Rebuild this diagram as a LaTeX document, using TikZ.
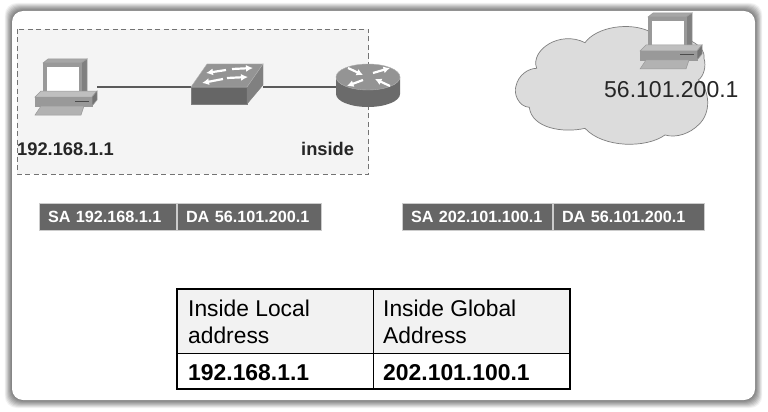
\documentclass[tikz,border=0pt]{standalone}
\usepackage{fontspec}
\usetikzlibrary{arrows.meta}
\setmainfont{Liberation Sans}
\definecolor{pktgray}{HTML}{666666}
\definecolor{linegray}{HTML}{5A5A5A}
\definecolor{zonefill}{HTML}{F4F4F4}
\definecolor{cloudfill}{HTML}{DCDCDC}
\definecolor{cloudline}{HTML}{7F7F7F}
\tikzset{
  x=1pt,y=-1pt,
  slot/.style={draw=none,fill=none,inner sep=0pt,outer sep=0pt},
  pkt/.style={fill=pktgray,draw=white!80!black,line width=.5pt,text=white,inner ysep=0pt,inner xsep=9pt,outer sep=0pt,
     minimum height=27pt,align=left,font=\bfseries\fontsize{16.2}{18}\selectfont},
  link/.style={draw=linegray,line width=1.8pt},
  celltxt/.style={anchor=base west,inner sep=0pt,font=\fontsize{22.8}{26}\selectfont},
  cellbold/.style={anchor=base west,inner sep=0pt,font=\bfseries\fontsize{22.9}{26}\selectfont},
  lbl/.style={anchor=base west,inner sep=0pt,font=\bfseries\fontsize{18.3}{22}\selectfont,text=black!85},
  pcpart/.style={draw=black!40,line width=.5pt},
  pics/computer/.style={code={
    % monitor side/top
    \path[pcpart,fill=black!50] (87,59) -- (87,91) -- (81,95) -- (81,63) -- cycle;
    \path[pcpart,fill=black!35] (43,63) -- (48,59) -- (87,59) -- (81,63) -- cycle;
    \path[pcpart,fill=black!40] (43,63) rectangle (81,95);
    \path[draw=none,fill=white] (47,67) rectangle (79,91);
    % base
    \path[pcpart,fill=black!25] (35,97) -- (41,91) -- (97,91) -- (92,97) -- cycle;
    \path[pcpart,fill=black!40] (35,97) rectangle (92,106);
    \path[pcpart,fill=black!55] (92,97) -- (97,91) -- (97,100) -- (92,106) -- cycle;
    \path[draw=black!70,line width=1pt] (75,101) -- (89,101);
    % keyboard
    \path[pcpart,fill=black!30] (41,106) -- (84,106) -- (81,115) -- (35,115) -- cycle;
  }},
}
\begin{document}
\begin{tikzpicture}
\useasboundingbox (0,0) rectangle (768,412);
\fill[white] (0,0) rectangle (768,412);
% frame with soft edge
\foreach \d/\s in {8/5,7/12,6/19,5/26,4/32,3/38,2/43,1/48,0/52}{
  \fill[black!\s,rounded corners=12pt] (12-\d*.9,11-\d) rectangle (755+\d*.9,400+\d);
}
\fill[white,rounded corners=11pt] (12,11) rectangle (755,400);
% inside zone
\draw[fill=zonefill,draw=black!55,line width=.8pt,dash pattern=on 5pt off 3.5pt] (17,29) rectangle (368.5,174);
% nodes for devices
\node[slot,minimum width=62pt,minimum height=57pt] (pc) at (66,87) {};
\node[slot,minimum width=72pt,minimum height=40pt] (sw) at (227,87) {};
\node[slot,minimum width=64pt,minimum height=46pt] (rt) at (368,87) {};
\draw[link] (pc.east) -- (sw.west);
\draw[link] (sw.east) -- (rt.west);
\pic {computer};
% switch
\path[fill=black!60,draw=black!50,line width=.4pt] (191,87) -- (247,87) -- (247,104) -- (191,104) -- cycle;
\path[fill=black!50,draw=black!50,line width=.4pt] (247,87) -- (263,64) -- (263,85) -- (247,104) -- cycle;
\path[fill=black!42,draw=black!30,line width=.4pt] (191,87) -- (207,64) -- (263,64) -- (247,87) -- cycle;
\begin{scope}[white,line width=2.2pt,-{Latex[length=7pt,width=7pt]}]
\draw (226,70) -- (206,73);
\draw (232,69) -- (253,68);
\draw (223,79) -- (202,83);
\draw (227,78) -- (248,77);
\end{scope}
% router
\path[fill=black!58] (336,77) -- (336,94) arc[start angle=180,end angle=0,x radius=32,y radius=13] -- (400,77) -- cycle;
\path[fill=black!42,draw=black!30,line width=.4pt] (368,77) ellipse[x radius=32,y radius=13];
\begin{scope}[white,line width=2.2pt,-{Latex[length=6.5pt,width=7pt]}]
\draw (348,68) -- (363,75);
\draw (373,73) -- (390,68);
\draw (363,80) -- (347,86);
\draw (390,86) -- (375,79);
\end{scope}
\node[lbl] (ipa) at (17,155) {192.168.1.1};
\node[lbl] (ins) at (301,155) {inside};
% cloud
\begin{scope}[shift={(490,0)},x=.3333pt,y=-.3333pt]
\path[fill=cloudfill,draw=cloudline,line width=.7pt]
 (140,205) .. controls (120,150) and (210,90) .. (285,128)
 .. controls (320,80) and (420,65) .. (480,95)
 .. controls (560,95) and (650,130) .. (642,175)
 .. controls (650,200) and (640,230) .. (625,240)
 .. controls (660,270) and (665,340) .. (625,375)
 .. controls (600,400) and (560,415) .. (525,405)
 .. controls (470,445) and (340,445) .. (285,385)
 .. controls (220,400) and (125,385) .. (118,322)
 .. controls (85,320) and (70,280) .. (78,258)
 .. controls (85,225) and (115,205) .. (140,205) -- cycle;
\end{scope}
\pic[shift={(605,-46)}] {computer};
\node[anchor=base west,inner sep=0pt,font=\fontsize{23}{26}\selectfont,text=black!85] (rip) at (604,97) {56.101.200.1};
% packets
\node[pkt,text width=119pt] (p1) at (107.5,216.5) {SA 192.168.1.1};
\node[pkt,text width=126pt] (p2) at (249,216.5) {DA 56.101.200.1};
\node[pkt,text width=132pt] (p3) at (477,216.5) {SA 202.101.100.1};
\node[pkt,text width=133pt] (p4) at (628.5,216.5) {DA 56.101.200.1};
% table
\fill[black!5] (177,289) rectangle (570,353);
\draw[line width=.9pt] (177,353) -- (570,353);
\draw[line width=.9pt] (373,289) -- (373,389);
\draw[line width=1.9pt] (177,289) rectangle (570,389);
\node[celltxt] (t1) at (188,316) {Inside Local};
\node[celltxt] (t2) at (188,343) {address};
\node[celltxt] (t3) at (383,316) {Inside Global};
\node[celltxt] (t4) at (383,343) {Address};
\node[cellbold] (t5) at (188,380) {192.168.1.1};
\node[cellbold] (t6) at (383,380) {202.101.100.1};
\end{tikzpicture}
\end{document}
